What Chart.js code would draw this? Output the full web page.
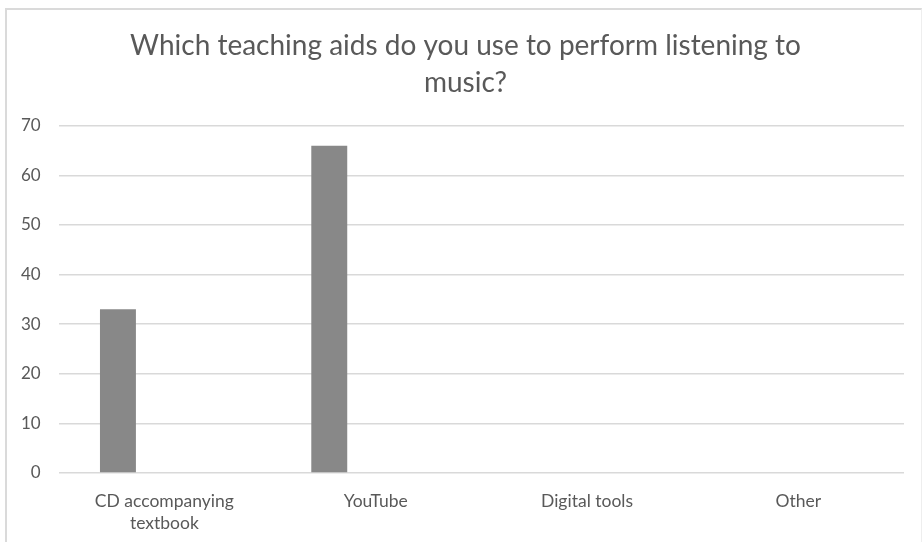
<!DOCTYPE html>
<html>
<head>
<meta charset="utf-8">
<script src="https://cdn.jsdelivr.net/npm/chart.js@4.4.1/dist/chart.umd.min.js"></script>
<style>
  html, body { margin: 0; padding: 0; background: #ffffff; overflow: hidden; }
  #wrap { position: relative; width: 922px; height: 542px; }
  #frame { position: absolute; left: 5px; top: 8px; width: 914px; height: 600px;
           border-left: 2px solid #dadada; border-top: 2px solid #dadada; border-right: 1px solid #eeeeee; }
  #c { position: absolute; left: 0; top: 0; }
</style>
</head>
<body>
<div id="wrap">
  <div id="frame"></div>
  <canvas id="c" width="922" height="542"></canvas>
</div>
<script>
const titleLines = ["Which teaching aids do you use to perform listening to", "music?"];
const categories = [["CD accompanying", "textbook"], "YouTube", "Digital tools", "Other"];
const series1 = [33, 66, null, null];
const series2 = [null, null, null, null];
const yTicks = { min: 0, max: 70, step: 10 };

const textColor = "#595959";
const fontFamily = "Lato, 'Open Sans', sans-serif";

// centre the title on the whole chart frame rather than on the padded layout box
const titleCentre = {
  id: "titleCentre",
  afterLayout(chart) {
    const t = chart.titleBlock;
    if (!t) return;
    const shift = 12;
    t.left += shift;
    t.right += shift;
  }
};

new Chart(document.getElementById("c"), {
  type: "bar",
  data: {
    labels: categories,
    datasets: [
      { label: "Series1", data: series1, backgroundColor: "#888888", borderWidth: 0,
        categoryPercentage: 0.879, barPercentage: 0.387 },
      { label: "Series2", data: series2, backgroundColor: "#bbbbbb", borderWidth: 0,
        categoryPercentage: 0.879, barPercentage: 0.387 }
    ]
  },
  plugins: [titleCentre],
  options: {
    responsive: false,
    animation: false,
    devicePixelRatio: 1,
    layout: { padding: { left: 3, right: 18, top: 0, bottom: -1 } },
    plugins: {
      legend: { display: false },
      tooltip: { enabled: false },
      title: {
        display: true,
        text: titleLines,
        color: textColor,
        font: { family: fontFamily, size: 28, weight: "normal", lineHeight: 1.3 },
        padding: { top: 28, bottom: 25 }
      }
    },
    scales: {
      x: {
        grid: { display: false },
        border: { display: false },
        ticks: {
          color: textColor,
          font: { family: fontFamily, size: 17.5, lineHeight: 1.26 },
          padding: 9,
          maxRotation: 0,
          autoSkip: false
        }
      },
      y: {
        min: yTicks.min,
        max: yTicks.max,
        grid: { color: "#d9d9d9", lineWidth: 1.5, drawTicks: false },
        border: { display: false },
        ticks: {
          stepSize: yTicks.step,
          color: textColor,
          font: { family: fontFamily, size: 17 },
          padding: 18
        }
      }
    }
  }
});
</script>
</body>
</html>
